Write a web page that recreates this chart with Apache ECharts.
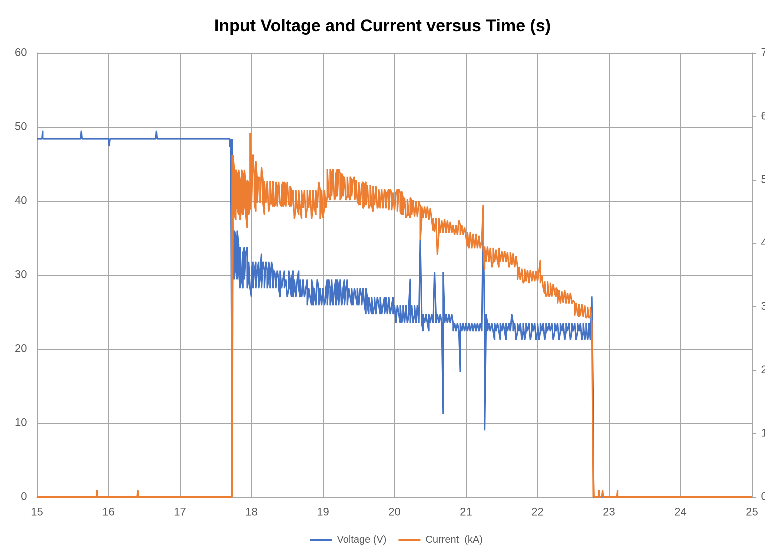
<!DOCTYPE html>
<html>
<head>
<meta charset="utf-8">
<title>Input Voltage and Current versus Time</title>
<script src="https://cdn.jsdelivr.net/npm/echarts@6.0.0/dist/echarts.min.js"></script>
<style>
  html, body { margin: 0; padding: 0; background: #fff; }
  #chart { width: 765px; height: 556px; }
</style>
</head>
<body>
<div id="chart"></div>
<script>
// axis ranges
const timeTicks = [15, 16, 17, 18, 19, 20, 21, 22, 23, 24, 25];
const voltageTicks = [0, 10, 20, 30, 40, 50, 60];
const currentTicks = [0, 1, 2, 3, 4, 5, 6, 7];

// Voltage (V): [time, value] or, where the trace is a noisy band, [time, high, low]
const voltageSamples = [
  [15.00, 48.4], [15.07, 48.4], [15.08, 49.5, 48.4], [15.09, 48.4], [15.61, 48.4], [15.62, 49.5, 48.4], [15.63, 48.4],
  [16.00, 48.4], [16.01, 48.4, 47.4], [16.02, 48.4], [16.66, 48.4], [16.67, 49.5, 48.4], [16.68, 48.4],
  [17.69, 48.4], [17.70, 48.4, 47.3], [17.71, 48.4], [17.72, 48.4], [17.73, 48.4, 0],
  [17.74, 36.5, 30.6], [17.76, 36.0, 29.4], [17.78, 35.3, 30.6], [17.80, 36.0, 29.4], [17.82, 34.1, 30.6], [17.84, 33.8, 28.2],
  [17.86, 33.8, 29.4], [17.88, 33.0, 28.2], [17.90, 33.8, 29.4], [17.92, 33.0, 29.4], [17.94, 33.8, 28.2], [17.96, 31.8, 29.4],
  [17.98, 31.8, 28.2], [18.00, 30.6, 27.0], [18.02, 31.8, 28.2], [18.04, 30.6, 28.2], [18.06, 31.8, 28.2], [18.08, 30.6, 28.2],
  [18.10, 31.8, 28.2], [18.12, 30.6, 29.4], [18.14, 32.9, 28.2], [18.16, 31.8, 28.2], [18.18, 30.6, 28.2], [18.20, 31.8, 28.2],
  [18.22, 30.6, 28.2], [18.24, 31.8, 29.4], [18.26, 30.6, 28.2], [18.28, 31.8, 28.2], [18.30, 30.6, 28.2], [18.32, 30.6, 28.2],
  [18.34, 29.4, 28.2], [18.36, 30.6, 28.2], [18.38, 29.4, 28.2], [18.40, 30.6, 27.0], [18.42, 30.6, 28.2], [18.44, 29.4, 28.2],
  [18.46, 30.6, 28.2], [18.48, 29.4, 28.2], [18.50, 29.4, 27.0], [18.52, 30.6, 28.2], [18.54, 29.4, 28.2], [18.56, 29.4, 27.0],
  [18.58, 30.6, 27.0], [18.60, 29.4, 28.2], [18.62, 29.4, 27.0], [18.64, 29.4, 27.0], [18.66, 30.6, 28.2], [18.68, 29.4, 27.0],
  [18.70, 29.4, 27.0], [18.72, 29.4, 28.2], [18.74, 29.4, 27.0], [18.76, 28.2, 27.0], [18.78, 29.4, 25.9], [18.80, 28.2, 25.9],
  [18.82, 28.2, 27.0], [18.84, 29.4, 25.9], [18.86, 28.2, 25.9], [18.88, 28.2, 27.0], [18.90, 28.2, 25.9], [18.92, 29.4, 25.9],
  [18.94, 28.2, 25.9], [18.96, 28.2, 27.0], [18.98, 28.2, 25.9], [19.00, 28.2, 25.9], [19.02, 28.2, 25.9], [19.04, 28.2, 27.0],
  [19.06, 29.4, 25.9], [19.08, 29.4, 25.9], [19.10, 28.2, 25.9], [19.12, 29.4, 27.0], [19.14, 29.4, 25.9], [19.16, 28.2, 25.9],
  [19.18, 29.4, 25.9], [19.20, 29.4, 27.0], [19.22, 28.2, 25.9], [19.24, 29.4, 25.9], [19.26, 29.4, 25.9], [19.28, 28.2, 27.0],
  [19.30, 29.4, 25.9], [19.32, 28.2, 25.9], [19.34, 29.4, 25.9], [19.36, 28.2, 25.9], [19.38, 28.2, 27.0], [19.40, 28.2, 25.9],
  [19.42, 28.2, 25.9], [19.44, 28.2, 25.9], [19.46, 28.2, 27.0], [19.48, 28.2, 25.9], [19.50, 28.2, 25.9], [19.52, 28.2, 25.9],
  [19.54, 27.0, 25.9], [19.56, 28.2, 25.9], [19.58, 28.2, 25.9], [19.60, 28.2, 24.7], [19.62, 27.0, 25.9], [19.64, 27.0, 24.7],
  [19.66, 27.0, 25.9], [19.68, 27.0, 24.7], [19.70, 27.0, 24.7], [19.72, 27.0, 25.9], [19.74, 27.0, 24.7], [19.76, 27.0, 24.7],
  [19.78, 27.0, 25.9], [19.80, 27.0, 24.7], [19.82, 27.0, 24.7], [19.84, 25.9, 24.7], [19.86, 27.0, 24.7], [19.88, 27.0, 25.9],
  [19.90, 27.0, 24.7], [19.92, 27.0, 24.7], [19.94, 27.0, 24.7], [19.96, 25.9, 24.7], [19.98, 27.0, 24.7], [20.00, 25.9, 24.7],
  [20.02, 25.9, 23.5], [20.04, 25.9, 23.5], [20.06, 25.9, 24.7], [20.08, 25.9, 23.5], [20.10, 25.9, 23.5], [20.12, 25.9, 24.7],
  [20.14, 25.9, 23.5], [20.16, 25.9, 23.5], [20.18, 25.9, 23.5], [20.20, 25.9, 24.7], [20.22, 29.5, 23.5], [20.24, 25.9, 23.5],
  [20.26, 25.9, 23.5], [20.28, 25.9, 24.7], [20.30, 25.9, 23.5], [20.32, 25.9, 23.5], [20.34, 25.9, 23.5], [20.36, 34.7, 23.5],
  [20.38, 24.7, 23.5], [20.40, 24.7, 22.4], [20.42, 24.7, 23.5], [20.44, 24.7, 23.5], [20.46, 24.7, 23.5], [20.48, 24.7, 22.4],
  [20.50, 24.7, 23.5], [20.52, 24.7, 23.5], [20.54, 24.7, 23.5], [20.56, 30.4, 23.5], [20.58, 24.7, 23.5], [20.60, 24.7, 23.5],
  [20.62, 24.7, 23.5], [20.64, 24.7, 23.5], [20.66, 24.7, 23.5], [20.68, 30.4, 11.2], [20.70, 24.7, 23.5], [20.72, 24.7, 23.5],
  [20.74, 24.7, 23.5], [20.76, 24.7, 23.5], [20.78, 24.7, 23.5], [20.80, 24.7, 23.5], [20.82, 23.5, 22.4], [20.84, 23.5, 22.4],
  [20.86, 23.5, 22.4], [20.88, 23.5, 22.4], [20.90, 23.5, 22.4], [20.92, 23.5, 16.9], [20.94, 23.5, 22.4], [20.96, 23.5, 22.4],
  [20.98, 23.5, 22.4], [21.00, 23.5, 22.4], [21.02, 23.5, 22.4], [21.04, 23.5, 22.4], [21.06, 23.5, 22.4], [21.08, 23.5, 22.4],
  [21.10, 23.5, 22.4], [21.12, 23.5, 22.4], [21.14, 23.5, 22.4], [21.16, 23.5, 22.4], [21.18, 23.5, 22.4], [21.20, 23.5, 22.4],
  [21.22, 23.5, 22.4], [21.24, 37.2, 22.4], [21.26, 23.5, 9.0], [21.28, 24.7, 22.4], [21.30, 23.5, 22.4], [21.32, 23.5, 22.4],
  [21.34, 23.5, 22.4], [21.36, 23.5, 22.4], [21.38, 23.5, 22.4], [21.40, 23.5, 21.2], [21.42, 23.5, 22.4], [21.44, 23.5, 22.4],
  [21.46, 23.5, 22.4], [21.48, 23.5, 21.2], [21.50, 23.5, 22.4], [21.52, 23.5, 22.4], [21.54, 23.5, 22.4], [21.56, 23.5, 21.2],
  [21.58, 23.5, 22.4], [21.60, 23.5, 22.4], [21.62, 23.5, 22.4], [21.64, 24.7, 22.4], [21.66, 23.5, 22.4], [21.68, 23.5, 22.4],
  [21.70, 23.5, 21.2], [21.72, 23.5, 22.4], [21.74, 23.5, 22.4], [21.76, 23.5, 22.4], [21.78, 23.5, 21.2], [21.80, 23.5, 22.4],
  [21.82, 23.5, 21.2], [21.84, 23.5, 22.4], [21.86, 23.5, 22.4], [21.88, 23.5, 22.4], [21.90, 23.5, 21.2], [21.92, 23.5, 22.4],
  [21.94, 23.5, 22.4], [21.96, 23.5, 22.4], [21.98, 23.5, 21.2], [22.00, 23.5, 22.4], [22.02, 23.5, 21.2], [22.04, 23.5, 22.4],
  [22.06, 23.5, 22.4], [22.08, 23.5, 22.4], [22.10, 23.5, 21.2], [22.12, 23.5, 22.4], [22.14, 23.5, 22.4], [22.16, 23.5, 22.4],
  [22.18, 23.5, 22.4], [22.20, 23.5, 22.4], [22.22, 23.5, 21.2], [22.24, 23.5, 22.4], [22.26, 23.5, 22.4], [22.28, 23.5, 22.4],
  [22.30, 23.5, 21.2], [22.32, 23.5, 22.4], [22.34, 23.5, 22.4], [22.36, 23.5, 22.4], [22.38, 23.5, 21.2], [22.40, 23.5, 22.4],
  [22.42, 23.5, 22.4], [22.44, 23.5, 22.4], [22.46, 23.5, 21.2], [22.48, 23.5, 22.4], [22.50, 23.5, 22.4], [22.52, 23.5, 22.4],
  [22.54, 23.5, 21.2], [22.56, 23.5, 22.4], [22.58, 23.5, 22.4], [22.60, 23.5, 22.4], [22.62, 23.5, 21.2], [22.64, 23.5, 22.4],
  [22.66, 23.5, 21.2], [22.68, 23.5, 22.4], [22.70, 23.5, 21.2], [22.72, 23.5, 22.4], [22.74, 23.5, 21.2], [22.76, 27.1, 21.2],
  [22.78, 11.3, 0], [22.79, 0], [25.00, 0]
];

// Current (kA), same layout
const currentSamples = [
  [15.00, 0], [15.83, 0], [15.84, 0.11, 0], [15.85, 0], [16.40, 0], [16.41, 0.11, 0], [16.42, 0],
  [17.72, 0], [17.73, 5.39, 0],
  [17.74, 5.39, 4.37], [17.76, 5.16, 4.45], [17.78, 5.16, 4.37], [17.80, 5.10, 4.55], [17.82, 5.16, 4.45], [17.84, 5.00, 4.37],
  [17.86, 5.16, 4.55], [17.88, 5.10, 4.45], [17.90, 5.16, 4.60], [17.92, 4.95, 4.45], [17.94, 5.00, 4.24], [17.96, 4.95, 4.45],
  [17.98, 5.74, 4.55], [18.00, 5.10, 4.64], [18.02, 5.40, 4.64], [18.04, 5.05, 4.64], [18.06, 5.30, 4.50], [18.08, 5.00, 4.64],
  [18.10, 5.05, 4.64], [18.12, 4.98, 4.64], [18.14, 5.20, 4.64], [18.16, 5.00, 4.64], [18.18, 4.98, 4.45], [18.20, 5.00, 4.64],
  [18.22, 4.98, 4.64], [18.24, 5.00, 4.50], [18.26, 4.98, 4.64], [18.28, 4.98, 4.64], [18.30, 4.98, 4.58], [18.32, 4.97, 4.58],
  [18.34, 4.97, 4.62], [18.36, 4.90, 4.58], [18.38, 4.97, 4.58], [18.40, 4.97, 4.62], [18.42, 4.90, 4.58], [18.44, 4.97, 4.58],
  [18.46, 4.97, 4.62], [18.48, 4.90, 4.58], [18.50, 4.97, 4.58], [18.52, 4.97, 4.62], [18.54, 4.90, 4.58], [18.56, 4.84, 4.58],
  [18.58, 4.84, 4.56], [18.60, 4.84, 4.38], [18.62, 4.84, 4.56], [18.64, 4.84, 4.56], [18.66, 4.84, 4.45], [18.68, 4.84, 4.56],
  [18.70, 4.84, 4.38], [18.72, 4.84, 4.56], [18.74, 4.84, 4.56], [18.76, 4.84, 4.40], [18.78, 4.84, 4.56], [18.80, 4.84, 4.56],
  [18.82, 4.84, 4.56], [18.84, 4.84, 4.38], [18.86, 4.84, 4.56], [18.88, 4.84, 4.56], [18.90, 4.84, 4.45], [18.92, 4.84, 4.56],
  [18.94, 4.97, 4.56], [18.96, 4.84, 4.38], [18.98, 4.84, 4.56], [19.00, 4.84, 4.40], [19.02, 4.84, 4.56], [19.04, 4.84, 4.56],
  [19.06, 5.17, 4.74], [19.08, 5.17, 4.74], [19.10, 5.17, 4.68], [19.12, 5.10, 4.74], [19.14, 5.17, 4.74], [19.16, 5.17, 4.68],
  [19.18, 5.10, 4.74], [19.20, 5.17, 4.74], [19.22, 5.17, 4.74], [19.24, 5.10, 4.68], [19.26, 5.10, 4.74], [19.28, 5.05, 4.74],
  [19.30, 5.05, 4.74], [19.32, 5.05, 4.68], [19.34, 5.05, 4.74], [19.36, 5.05, 4.74], [19.38, 5.05, 4.68], [19.40, 5.00, 4.74],
  [19.42, 5.00, 4.74], [19.44, 5.05, 4.68], [19.46, 5.00, 4.74], [19.48, 5.00, 4.68], [19.50, 4.97, 4.60], [19.52, 4.97, 4.60],
  [19.54, 4.92, 4.60], [19.56, 4.97, 4.55], [19.58, 4.92, 4.60], [19.60, 4.97, 4.60], [19.62, 4.92, 4.60], [19.64, 4.92, 4.55],
  [19.66, 4.92, 4.60], [19.68, 4.90, 4.60], [19.70, 4.90, 4.50], [19.72, 4.90, 4.60], [19.74, 4.90, 4.60], [19.76, 4.90, 4.55],
  [19.78, 4.85, 4.60], [19.80, 4.85, 4.55], [19.82, 4.85, 4.52], [19.84, 4.85, 4.55], [19.86, 4.85, 4.52], [19.88, 4.80, 4.55],
  [19.90, 4.80, 4.52], [19.92, 4.85, 4.52], [19.94, 4.85, 4.55], [19.96, 4.80, 4.52], [19.98, 4.80, 4.50], [20.00, 4.80, 4.52],
  [20.02, 4.80, 4.52], [20.04, 4.85, 4.50], [20.06, 4.85, 4.52], [20.08, 4.80, 4.50], [20.10, 4.82, 4.45], [20.12, 4.72, 4.45],
  [20.14, 4.72, 4.45], [20.16, 4.70, 4.40], [20.18, 4.70, 4.45], [20.20, 4.72, 4.45], [20.22, 4.72, 4.40], [20.24, 4.68, 4.45],
  [20.26, 4.68, 4.45], [20.28, 4.66, 4.42], [20.30, 4.66, 4.45], [20.32, 4.66, 4.42], [20.34, 4.66, 4.42], [20.36, 4.58, 4.05],
  [20.38, 4.58, 4.37], [20.40, 4.58, 4.40], [20.42, 4.58, 4.37], [20.44, 4.58, 4.40], [20.46, 4.58, 4.37], [20.48, 4.55, 4.37],
  [20.50, 4.55, 4.37], [20.52, 4.55, 4.37], [20.54, 4.40, 4.20], [20.56, 4.40, 4.18], [20.58, 4.40, 4.20], [20.60, 4.40, 3.82],
  [20.62, 4.40, 4.16], [20.64, 4.38, 4.16], [20.66, 4.36, 4.18], [20.68, 4.38, 4.16], [20.70, 4.38, 4.18], [20.72, 4.36, 4.16],
  [20.74, 4.36, 4.18], [20.76, 4.34, 4.16], [20.78, 4.34, 4.18], [20.80, 4.34, 4.16], [20.82, 4.29, 4.13], [20.84, 4.29, 4.13],
  [20.86, 4.29, 4.13], [20.88, 4.29, 4.13], [20.90, 4.36, 4.13], [20.92, 4.29, 4.13], [20.94, 4.29, 4.13], [20.96, 4.29, 4.13],
  [20.98, 4.25, 4.10], [21.00, 4.25, 4.10], [21.02, 4.18, 3.95], [21.04, 4.18, 3.92], [21.06, 4.18, 3.95], [21.08, 4.15, 3.92],
  [21.10, 4.15, 3.95], [21.12, 4.15, 3.92], [21.14, 4.15, 3.92], [21.16, 4.12, 3.92], [21.18, 4.12, 3.92], [21.20, 4.12, 3.92],
  [21.22, 4.05, 3.92], [21.24, 4.60, 3.92], [21.26, 3.95, 3.58], [21.28, 3.93, 3.71], [21.30, 3.95, 3.71], [21.32, 3.95, 3.71],
  [21.34, 3.93, 3.71], [21.36, 3.93, 3.62], [21.38, 3.93, 3.71], [21.40, 3.93, 3.71], [21.42, 3.90, 3.71], [21.44, 3.93, 3.71],
  [21.46, 3.93, 3.62], [21.48, 3.90, 3.71], [21.50, 3.88, 3.71], [21.52, 3.88, 3.71], [21.54, 3.88, 3.68], [21.56, 3.88, 3.71],
  [21.58, 3.86, 3.71], [21.60, 3.86, 3.62], [21.62, 3.86, 3.71], [21.64, 3.86, 3.66], [21.66, 3.84, 3.66], [21.68, 3.84, 3.62],
  [21.70, 3.80, 3.62], [21.72, 3.63, 3.42], [21.74, 3.63, 3.40], [21.76, 3.63, 3.42], [21.78, 3.60, 3.40], [21.80, 3.60, 3.37],
  [21.82, 3.60, 3.42], [21.84, 3.60, 3.40], [21.86, 3.58, 3.42], [21.88, 3.58, 3.37], [21.90, 3.58, 3.40], [21.92, 3.58, 3.40],
  [21.94, 3.56, 3.37], [21.96, 3.56, 3.40], [21.98, 3.56, 3.37], [22.00, 3.56, 3.40], [22.02, 3.56, 3.37], [22.04, 3.74, 3.37],
  [22.06, 3.50, 3.37], [22.08, 3.50, 3.30], [22.10, 3.40, 3.20], [22.12, 3.40, 3.16], [22.14, 3.40, 3.20], [22.16, 3.40, 3.16],
  [22.18, 3.38, 3.20], [22.20, 3.38, 3.16], [22.22, 3.36, 3.16], [22.24, 3.36, 3.20], [22.26, 3.30, 3.16], [22.28, 3.26, 3.05],
  [22.30, 3.26, 3.03], [22.32, 3.26, 3.05], [22.34, 3.24, 3.03], [22.36, 3.24, 3.06], [22.38, 3.26, 3.03], [22.40, 3.26, 3.05],
  [22.42, 3.22, 3.03], [22.44, 3.22, 3.05], [22.46, 3.22, 3.03], [22.48, 3.22, 3.05], [22.50, 3.10, 3.03], [22.52, 3.06, 2.86],
  [22.54, 3.06, 2.84], [22.56, 3.06, 2.88], [22.58, 3.04, 2.84], [22.60, 3.04, 2.86], [22.62, 3.04, 2.88], [22.64, 3.04, 2.84],
  [22.66, 3.02, 2.84], [22.68, 3.02, 2.82], [22.70, 3.00, 2.86], [22.72, 3.00, 2.82], [22.74, 3.00, 2.86], [22.76, 2.98, 2.75],
  [22.78, 0.43, 0], [22.79, 0], [22.85, 0], [22.86, 0.11, 0], [22.87, 0], [22.90, 0], [22.91, 0.11, 0], [22.92, 0],
  [23.11, 0], [23.12, 0.11, 0], [23.13, 0], [25.00, 0]
];

// a [t, high, low] sample becomes a vertical stroke; the direction alternates so the trace zigzags like the logger data
function toLinePoints(samples) {
    let points = [];
    let down = true;
    samples.forEach(function (s) {
        if (s.length === 2) {
            points.push([s[0], s[1]]);
            return;
        }
        if (down) {
            points.push([s[0], s[1]], [s[0], s[2]]);
        } else {
            points.push([s[0], s[2]], [s[0], s[1]]);
        }
        down = !down;
    });
    return points;
}

const gridColor = '#a6a6a6';
const labelColor = '#595959';
const font = 'Liberation Sans';

// higher pixel ratio so zrender keeps the short steps of the dense trace
let chart = echarts.init(document.getElementById('chart'), null, { renderer: 'canvas', devicePixelRatio: 4 });

let option = {
    animation: false,
    backgroundColor: '#ffffff',
    title: {
        text: 'Input Voltage and Current versus Time (s)',
        left: 'center',
        top: 13,
        textStyle: {
            fontFamily: font,
            fontSize: 17,
            fontWeight: 'bold',
            color: '#000000'
        }
    },
    legend: {
        bottom: 6,
        left: 305,
        itemWidth: 22,
        itemHeight: 2,
        itemGap: 12,
        icon: 'rect',
        textStyle: { fontFamily: font, fontSize: 10, color: labelColor },
        data: ['Voltage (V)', 'Current  (kA)']
    },
    grid: {
        left: 37,
        right: 13,
        top: 53,
        bottom: 59,
        containLabel: false,
        outerBoundsMode: 'none'
    },
    xAxis: {
        type: 'value',
        min: timeTicks[0],
        max: timeTicks[timeTicks.length - 1],
        interval: 1,
        axisLine: { show: true, lineStyle: { color: gridColor } },
        axisTick: { show: false },
        axisLabel: { color: labelColor, fontFamily: font, fontSize: 11, margin: 10 },
        splitLine: { show: true, lineStyle: { color: gridColor, width: 1 } }
    },
    yAxis: [
        {
            type: 'value',
            min: voltageTicks[0],
            max: voltageTicks[voltageTicks.length - 1],
            interval: 10,
            axisLine: { show: true, lineStyle: { color: gridColor } },
            axisTick: { show: false },
            axisLabel: { color: labelColor, fontFamily: font, fontSize: 11, margin: 10 },
            splitLine: { show: true, lineStyle: { color: gridColor, width: 1 } }
        },
        {
            type: 'value',
            position: 'right',
            min: currentTicks[0],
            max: currentTicks[currentTicks.length - 1],
            interval: 1,
            axisLine: { show: true, lineStyle: { color: gridColor } },
            axisTick: { show: true, length: 4, lineStyle: { color: gridColor } },
            axisLabel: { color: labelColor, fontFamily: font, fontSize: 11, margin: 9 },
            splitLine: { show: false }
        }
    ],
    series: [
        {
            name: 'Voltage (V)',
            type: 'line',
            yAxisIndex: 0,
            data: toLinePoints(voltageSamples),
            showSymbol: false,
            symbol: 'none',
            sampling: null,
            color: '#4472C4',
            lineStyle: { width: 1.5, color: '#4472C4' },
            z: 2
        },
        {
            name: 'Current  (kA)',
            type: 'line',
            yAxisIndex: 1,
            data: toLinePoints(currentSamples),
            showSymbol: false,
            symbol: 'none',
            sampling: null,
            color: '#ED7D31',
            lineStyle: { width: 1.5, color: '#ED7D31' },
            z: 3
        }
    ]
};

chart.setOption(option);
</script>
</body>
</html>
